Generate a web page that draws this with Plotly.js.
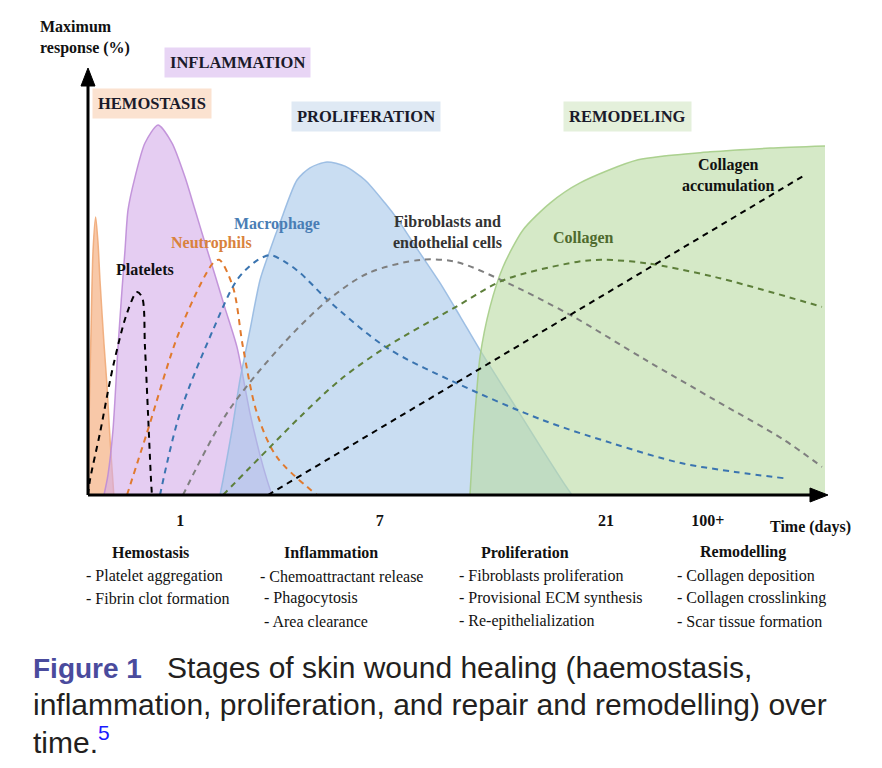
<!DOCTYPE html>
<html>
<head>
<meta charset="utf-8">
<script src="https://cdn.plot.ly/plotly-3.0.1.min.js"></script>
<style>html,body{margin:0;padding:0;background:#fff;}#chart{width:882px;height:768px;}</style>
</head>
<body>
<div id="chart"></div>
<script>
// ---- DATA (time in arbitrary schematic units 0-100, response in %) ----
const hemostasisX = [0, 0.14, 0.41, 0.68, 1.04, 1.36, 1.63, 2.17, 2.58, 3.0, 3.39, 3.5];
const hemostasisY = [0, 18, 39, 58, 66.2, 60, 51, 36, 26, 13, 3, 0];

const inflammationX = [2.17, 2.71, 3.39, 4.07, 4.61, 5.02, 5.43, 6.38, 7.73, 9.5, 11.4, 13.16, 14.52, 15.88, 17.23, 18.59, 20.22, 21.98, 23.34, 24.29, 24.97];
const inflammationY = [0, 4.8, 15.5, 35.2, 48.8, 58.3, 67.9, 75.7, 83.8, 88.1, 83.8, 75.7, 67.9, 60, 52.4, 44.5, 35.2, 19.5, 9.5, 3.6, 0];

const proliferationX = [17.91, 18.32, 19.54, 20.62, 21.98, 23.34, 24.69, 26.05, 28.36, 30.12, 32.43, 34.87, 37.58, 40.3, 42.06, 44.78, 47.76, 50.47, 53.19, 57.26, 61.33, 64.72, 65.67];
const proliferationY = [0, 3.6, 15.5, 27.4, 39.3, 51.2, 58.3, 64.8, 75, 77.9, 79.3, 78.3, 75, 69.5, 65.5, 58.3, 50.5, 42.6, 34.5, 23.1, 11.7, 2.4, 0];

const remodelingX = [51.83, 52.1, 52.24, 52.65, 53.19, 54.55, 56.31, 59.02, 62.69, 66.76, 74.63, 84.4, 92.54, 100];
const remodelingY = [0, 8.3, 13.1, 22.6, 32.9, 44.8, 54.3, 63.1, 69.5, 74.3, 79.8, 81.7, 82.6, 83.1];

const plateletsX = [0, 0.27, 1.63, 3.39, 5.29, 6.65, 7.33, 7.73, 8.14, 8.55, 8.68];
const plateletsY = [0, 3.6, 14.8, 30.5, 43.3, 48.3, 47.1, 35.2, 19.5, 3.6, 0];

const neutrophilsX = [5.29, 8.0, 12.48, 16.96, 17.8, 19.67, 21.03, 22.93, 25.64, 31.07];
const neutrophilsY = [0, 14.8, 39.3, 55.2, 56, 49.5, 35.2, 19.5, 9, 0];

const macrophageX = [9.77, 12.48, 16.96, 20.22, 22.66, 24.69, 26.73, 28.77, 32.56, 40.43, 49.93, 61.6, 70.96, 80.46, 87.79, 94.44];
const macrophageY = [0, 19.5, 39.3, 51.2, 55.5, 57.1, 55.5, 52.9, 46.4, 35.2, 26.7, 17.9, 12.4, 7.6, 5.5, 4];

const fibroblastsX = [12.89, 18.86, 26.05, 32.56, 38.13, 45.18, 49.93, 56.04, 65.4, 75.71, 85.07, 94.44, 99.59];
const fibroblastsY = [0, 19.5, 35.2, 46.4, 52.9, 56, 55.5, 51.2, 42.9, 32.1, 22.6, 13.1, 6.7];

const collagenX = [18.32, 24.69, 28.77, 34.19, 40.43, 49.93, 56.45, 66.35, 69.61, 75.71, 85.07, 99.59];
const collagenY = [0, 11.4, 18.6, 27.4, 35.2, 44.8, 51.2, 55.5, 56, 55.2, 51.9, 44.8];

const accumulationX = [24.42, 97.29];
const accumulationY = [0, 76.2];

const tickVals = [12.5, 39.6, 70.3, 84.1];
const tickLabels = ['1', '7', '21', '100+'];

const phaseNames = ['HEMOSTASIS', 'INFLAMMATION', 'PROLIFERATION', 'REMODELING'];
const curveNames = ['Platelets', 'Neutrophils', 'Macrophage', 'Fibroblasts and<br>endothelial cells', 'Collagen', 'Collagen<br>accumulation'];

const stageNames = ['Hemostasis', 'Inflammation', 'Proliferation', 'Remodelling'];
const stageEvents = [
  ['- Platelet aggregation', '- Fibrin clot formation'],
  ['- Chemoattractant release', '- Phagocytosis', '- Area clearance'],
  ['- Fibroblasts proliferation', '- Provisional ECM synthesis', '- Re-epithelialization'],
  ['- Collagen deposition', '- Collagen crosslinking', '- Scar tissue formation']
];

const captionLines = [
  '<b><span style="color:#4a4b9d;font-size:28px">Figure 1</span></b>   Stages of skin wound healing (haemostasis,',
  'inflammation, proliferation, and repair and remodelling) over',
  'time.<sup><span style="color:#1a1aff">5</span></sup>'
];

// ---- LAYOUT HELPERS ----
const L = 88, T = 75, W = 737, H = 420;
function px(x) { return (x - L) / W; }
function py(y) { return (T + H - y) / H; }
const serif = 'Liberation Serif, Times New Roman, serif';
const sans = 'Liberation Sans, Arial, sans-serif';

function area(x, y, fill, line) {
  return {x: x, y: y, type: 'scatter', mode: 'lines', fill: 'tozeroy', fillcolor: fill,
    line: {color: line, width: 1.5, shape: 'spline', smoothing: 0.7}, hoverinfo: 'skip'};
}
function dashed(x, y, color, width, dash) {
  return {x: x, y: y, type: 'scatter', mode: 'lines',
    line: {color: color, width: width, dash: dash, shape: 'spline', smoothing: 0.9}, hoverinfo: 'skip'};
}

const traces = [
  area(hemostasisX, hemostasisY, 'rgba(246,186,146,0.8)', 'rgba(240,170,120,0.9)'),
  area(inflammationX, inflammationY, 'rgba(212,172,234,0.6)', 'rgba(190,140,215,0.9)'),
  area(proliferationX, proliferationY, 'rgba(165,198,234,0.6)', 'rgba(150,185,225,0.9)'),
  area(remodelingX, remodelingY, 'rgba(188,220,165,0.62)', 'rgba(165,205,135,0.9)'),
  dashed(plateletsX, plateletsY, '#000000', 2, '6px,5px'),
  dashed(neutrophilsX, neutrophilsY, '#e07a2e', 2, '6px,5px'),
  dashed(macrophageX, macrophageY, '#3a74b0', 2, '6px,5px'),
  dashed(fibroblastsX, fibroblastsY, '#7f7f7f', 2, '6px,5px'),
  dashed(collagenX, collagenY, '#5d7f3a', 2, '6px,5px'),
  dashed(accumulationX, accumulationY, '#000000', 2, '6px,5px')
];

const ann = [];
function addText(x, y, text, font, extra) {
  ann.push(Object.assign({xref: 'paper', yref: 'paper', x: px(x), y: py(y), text: text, showarrow: false,
    xanchor: 'center', yanchor: 'middle', font: font}, extra || {}));
}
// phase labels
const phasePos = [[152, 103], [237, 62], [366, 116], [627, 116]];
const phaseBg = ['#fbe2d0', '#e8d5f5', '#dfe9f4', '#e4f0db'];
phaseNames.forEach((t, i) => addText(phasePos[i][0], phasePos[i][1], '<b>' + t + '</b>',
  {family: serif, size: 16.5, color: '#1a1a2a'}, {bgcolor: phaseBg[i], borderpad: 5}));
// curve labels
const curvePos = [[145, 269], [211, 243], [277, 224], [447, 232], [583, 238], [728, 175]];
const curveCol = ['#111111', '#d9823d', '#4a7db5', '#333333', '#4f6a2e', '#111111'];
curveNames.forEach((t, i) => addText(curvePos[i][0], curvePos[i][1], '<b>' + t + '</b>',
  {family: serif, size: 16, color: curveCol[i]}, {align: 'center'}));
// axis titles
addText(38, 37, '<b>Maximum<br>response (%)</b>', {family: serif, size: 16, color: '#111'}, {xanchor: 'left', align: 'left'});
addText(853, 527, '<b>Time (days)</b>', {family: serif, size: 16, color: '#111'}, {xanchor: 'right'});
// stage texts
const headX = [150, 331, 525, 743];
const evX = [[84, 84], [258, 262, 262], [457, 457, 457], [675, 675, 675]];
const evY = [576, 598, 621];
stageNames.forEach((t, i) => {
  addText(headX[i], 552, '<b>' + t + '</b>', {family: serif, size: 16, color: '#111'});
  stageEvents[i].forEach((e, j) => addText(evX[i][j], evY[j], e, {family: serif, size: 16, color: '#111'}, {xanchor: 'left'}));
});
// caption
const capY = [667, 704, 740];
captionLines.forEach((t, i) => addText(31, capY[i], t, {family: sans, size: 30, color: '#231f20'}, {xanchor: 'left'}));

const shapes = [
  {type: 'line', xref: 'paper', yref: 'paper', x0: 0, x1: 0, y0: 0, y1: py(84), line: {color: '#000', width: 3}},
  {type: 'path', xref: 'paper', yref: 'paper', fillcolor: '#000', line: {color: '#000', width: 1},
    path: `M ${px(81)} ${py(86)} L ${px(88)} ${py(68)} L ${px(95)} ${py(86)} Z`},
  {type: 'line', xref: 'paper', yref: 'paper', x0: 0, x1: px(812), y0: 0, y1: 0, line: {color: '#000', width: 3}},
  {type: 'path', xref: 'paper', yref: 'paper', fillcolor: '#000', line: {color: '#000', width: 1},
    path: `M ${px(810)} ${py(488)} L ${px(828)} ${py(495)} L ${px(810)} ${py(502)} Z`}
];

const layout = {
  width: 882, height: 768,
  margin: {l: L, r: 882 - L - W, t: T, b: 768 - T - H},
  paper_bgcolor: '#fff', plot_bgcolor: '#fff',
  showlegend: false, hovermode: false,
  xaxis: {range: [0, 100], showgrid: false, zeroline: false, showline: false,
    tickmode: 'array', tickvals: tickVals, ticktext: tickLabels.map(t => '<b>' + t + '</b>'),
    ticks: 'outside', ticklen: 11, tickcolor: 'rgba(0,0,0,0)',
    tickfont: {family: serif, size: 16, color: '#111'}, fixedrange: true},
  yaxis: {range: [0, 100], showgrid: false, zeroline: false, showline: false, showticklabels: false, fixedrange: true},
  annotations: ann,
  shapes: shapes
};

Plotly.newPlot('chart', traces, layout, {staticPlot: true, displayModeBar: false});
</script>
</body>
</html>
